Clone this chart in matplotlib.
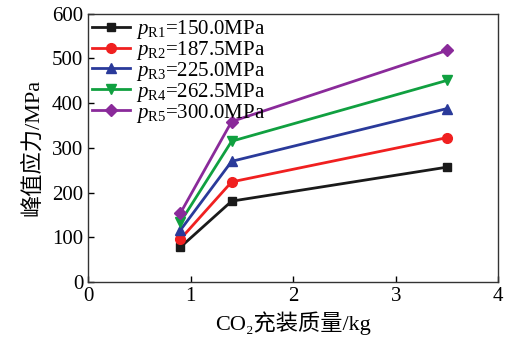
import matplotlib
matplotlib.use('Agg')
from matplotlib import pyplot

pyplot.rcParams['font.family'] = ['Liberation Serif', 'DejaVu Serif', 'Noto Sans CJK SC']
pyplot.rcParams['mathtext.fontset'] = 'custom'
pyplot.rcParams['mathtext.rm'] = 'Liberation Serif'
pyplot.rcParams['mathtext.it'] = 'Liberation Serif:italic'

mass = [0.9, 1.4, 3.5]
labels = ['150.0', '187.5', '225.0', '262.5', '300.0']
subs = ['R1', 'R2', 'R3', 'R4', 'R5']
peak = [
    [78, 181, 257],
    [96, 224, 323],
    [116, 270, 388],
    [134, 315, 451],
    [154, 359, 518],
]
colors = ['#1a1a1a', '#f02020', '#2a3a9a', '#10a040', '#8a2a9a']
markers = ['s', 'o', '^', 'v', 'D']
sizes = [6, 7, 7, 7, 6]

fig, ax = pyplot.subplots(figsize=(5.18, 3.44), dpi=100)
fig.subplots_adjust(left=0.17, right=0.962, top=0.96, bottom=0.18)

for i in range(5):
    ax.plot(mass, peak[i], color=colors[i], marker=markers[i], markersize=sizes[i],
            linewidth=2, label=r'$p_{\mathrm{%s}}$=%sMPa' % (subs[i], labels[i]))

ax.set_xlim(0, 4)
ax.set_ylim(0, 600)
ax.set_xticks([0, 1, 2, 3, 4])
ax.set_yticks([0, 100, 200, 300, 400, 500, 600])
ax.tick_params(direction='in', labelsize=15, length=4, width=1)
for s in ax.spines.values():
    s.set_linewidth(1)
    s.set_color('#333333')

ax.set_xlabel('CO\u2082充装质量/kg', fontsize=16, labelpad=4)
ax.set_ylabel('峰值应力/MPa', fontsize=16, labelpad=6)

ax.legend(loc='upper left', frameon=False, fontsize=15, handlelength=1.8,
          handletextpad=0.3, labelspacing=-0.1, borderaxespad=0.1, borderpad=0.1)

pyplot.savefig('out.png')
